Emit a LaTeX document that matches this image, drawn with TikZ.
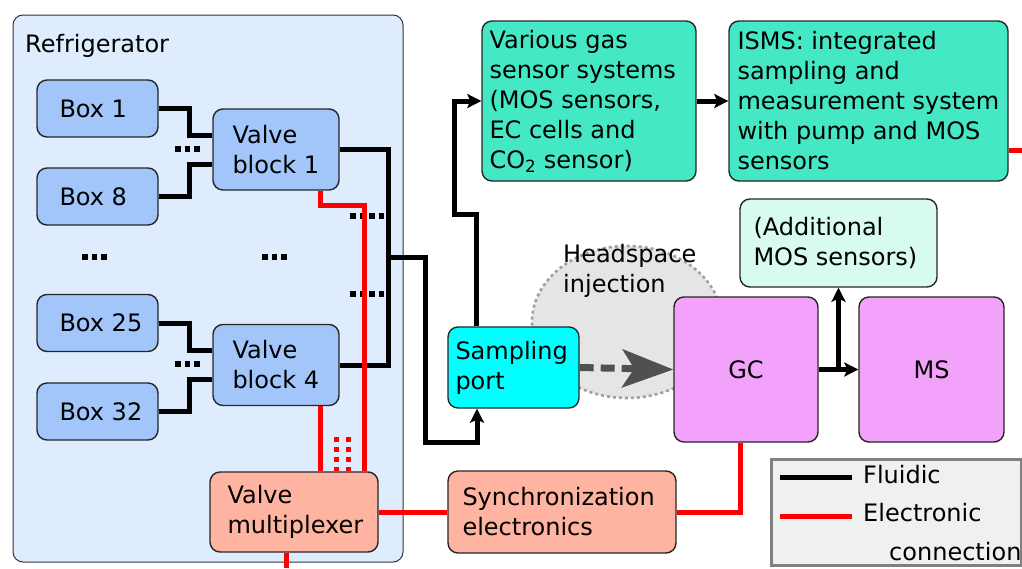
\documentclass[tikz,border=0pt]{standalone}
\usepackage{fontspec}
\setmainfont{DejaVu Sans}
\usetikzlibrary{arrows.meta,shapes.geometric}
\definecolor{fridgefill}{HTML}{DFECFD}
\definecolor{boxfill}{HTML}{A3C6FA}
\definecolor{tealfill}{HTML}{45E8C5}
\definecolor{mintfill}{HTML}{D7FBEF}
\definecolor{cyanfill}{HTML}{00FFFF}
\definecolor{violetfill}{HTML}{F2A2FA}
\definecolor{salmonfill}{HTML}{FFB3A1}
\definecolor{legendfill}{HTML}{F0F0F0}
\definecolor{legenddraw}{HTML}{808080}
\definecolor{hsfill}{HTML}{E5E5E5}
\definecolor{hsdraw}{HTML}{A0A0A0}
\definecolor{hsarrow}{HTML}{505050}
\definecolor{elecred}{HTML}{FF0000}
\begin{document}
\begin{tikzpicture}[x=1pt,y=-1pt,
  rbox/.style={rectangle,draw=black!85,line width=1.4pt,rounded corners=10pt,inner sep=0pt},
  txt/.style={font=\fontsize{24}{30}\selectfont,align=left,inner sep=0pt,anchor=west},
  fluid/.style={line width=5pt,black},
  elec/.style={line width=5pt,elecred},
  tip/.style={-{Stealth[length=14pt,width=14pt,inset=3pt]}},
  dots/.style={line width=5.5pt,black,dash pattern=on 5.5pt off 4pt},
  reddots/.style={line width=4.5pt,elecred,dash pattern=on 5pt off 5pt}]
\useasboundingbox (0,0) rectangle (1022,568);

% refrigerator
\node[rbox,draw=black!80,line width=1pt,fill=fridgefill,minimum width=390pt,minimum height=547pt] (fridge) at (208,288.5) {};
\node[txt,anchor=base west] (fridget) at (25,52) {Refrigerator};

% boxes
\node[rbox,fill=boxfill,minimum width=121pt,minimum height=57pt] (box1) at (97.5,108.5) {};
\node[rbox,fill=boxfill,minimum width=121pt,minimum height=57pt] (box8) at (97.5,196.5) {};
\node[rbox,fill=boxfill,minimum width=121pt,minimum height=57pt] (box25) at (97.5,323) {};
\node[rbox,fill=boxfill,minimum width=121pt,minimum height=57pt] (box32) at (97.5,411.5) {};
\node[txt] (box1t) at ([xshift=23pt]box1.west) {Box 1};
\node[txt] (box8t) at ([xshift=23pt]box8.west) {Box 8};
\node[txt] (box25t) at ([xshift=23pt]box25.west) {Box 25};
\node[txt] (box32t) at ([xshift=23pt]box32.west) {Box 32};

% valve blocks
\node[rbox,fill=boxfill,minimum width=126pt,minimum height=81pt] (vb1) at (276,149.5) {};
\node[rbox,fill=boxfill,minimum width=126pt,minimum height=81pt] (vb4) at (276,365) {};
\node[txt] (vb1t) at ([xshift=20pt]vb1.west) {Valve\\block 1};
\node[txt] (vb4t) at ([xshift=20pt]vb4.west) {Valve\\block 4};

% valve multiplexer
\node[rbox,fill=salmonfill,minimum width=168pt,minimum height=80pt] (mux) at (294,512) {};
\node[txt] (muxt) at ([xshift=18pt]mux.west) {Valve\\multiplexer};

% headspace ellipse
\node[ellipse,fill=hsfill,draw=hsdraw,line width=2.6pt,dash pattern=on 3pt off 3pt,minimum width=190pt,minimum height=152pt,inner sep=0pt] (hs) at (627,322) {};
\node[txt,anchor=base west] (hst) at (563,292) {Headspace\\injection};

% right side boxes
\node[rbox,fill=tealfill,minimum width=214pt,minimum height=160pt] (various) at (589,101) {};
\node[txt] (varioust) at ([xshift=8pt]various.west) {Various gas\\sensor systems\\(MOS sensors,\\EC cells and\\CO\textsubscript{2} sensor)};
\node[rbox,fill=tealfill,minimum width=279pt,minimum height=160pt] (isms) at (868.5,101) {};
\node[txt] (ismst) at ([xshift=9pt]isms.west) {ISMS: integrated\\sampling and\\measurement system\\with pump and MOS\\sensors};
\node[rbox,fill=mintfill,minimum width=197pt,minimum height=88pt] (addmos) at (838.5,243) {};
\node[txt] (addmost) at ([xshift=14pt]addmos.west) {(Additional\\MOS sensors)};
\node[rbox,fill=cyanfill,minimum width=131pt,minimum height=81pt] (sp) at (513.5,367.5) {};
\node[txt] (spt) at ([xshift=8pt]sp.west) {Sampling\\port};
\node[rbox,fill=violetfill,minimum width=144pt,minimum height=145pt] (gc) at (746,369.5) {};
\node[txt,anchor=center] (gct) at (gc.center) {GC};
\node[rbox,fill=violetfill,minimum width=145pt,minimum height=145pt] (ms) at (931.5,369.5) {};
\node[txt,anchor=center] (mst) at (ms.center) {MS};
\node[rbox,fill=salmonfill,minimum width=228pt,minimum height=82pt] (sync) at (562,512) {};
\node[txt] (synct) at ([xshift=15pt]sync.west) {Synchronization\\electronics};

% headspace arrow
\draw[hsarrow,line width=7pt,dash pattern=on 14pt off 7pt,-{Stealth[length=51pt,width=38pt,inset=12pt]}] (sp.east) -- (gc.west);

% fluidic connections
\draw[fluid] (box1.east) -- ++(31,0) |- (vb1.west |- 0,135);
\draw[fluid] (box8.east) -- ++(31,0) |- (vb1.west |- 0,164);
\draw[fluid] (box25.east) -- ++(31,0) |- (vb4.west |- 0,350);
\draw[fluid] (box32.east) -- ++(31,0) |- (vb4.west |- 0,379);
\coordinate (j) at (388,257);
\draw[fluid] (vb1.east) -| (j) |- (vb4.east);
\draw[fluid,tip] (j) -| (425,442) -| (477,0 |- sp.south);
\draw[fluid,tip] (476,0 |- sp.north) |- (454,214) |- (various.west);
\draw[fluid,tip] (various.east) -- (isms.west);
\draw[fluid,tip] (gc.east) -- (ms.west);
\draw[fluid,tip] (gc.east -| addmos.south) -- (addmos.south);

% dots
\draw[dots] (175,149) -- (202,149);
\draw[dots] (175,364) -- (202,364);
\draw[dots] (82,257) -- (109,257);
\draw[dots] (262,257) -- (289,257);
\draw[dots] (350,216) -- (386,216);
\draw[dots] (350,294) -- (386,294);

% electronic connections
\draw[elec] (320,0 |- vb1.south) |- (364,205) -- (364,0 |- mux.north);
\draw[elec] (320,0 |- vb4.south) -- (320,0 |- mux.north);
\draw[reddots] (336.5,437) -- (336.5,0 |- mux.north);
\draw[reddots] (348.5,437) -- (348.5,0 |- mux.north);
\draw[elec] (286,0 |- mux.south) -- (286,568);
\draw[elec] (mux.east) -- (sync.west);
\draw[elec] (740,0 |- gc.south) |- (sync.east);
\draw[elec] (isms.east |- 0,150) -- (1022,150);

% legend
\node[rectangle,fill=legendfill,draw=legenddraw,line width=3pt,minimum width=250pt,minimum height=106pt,inner sep=0pt] (legend) at (896,512) {};
\coordinate (lf1) at (780,477);
\coordinate (lf2) at (852,477);
\coordinate (le1) at (780,516);
\coordinate (le2) at (852,516);
\draw[fluid] (lf1) -- (lf2);
\draw[elec] (le1) -- (le2);
\node[txt,anchor=base west] (legf) at (863,483) {Fluidic};
\node[txt,anchor=base west] (lege) at (863,521) {Electronic};
\node[txt,anchor=base west] (legc) at (889,560) {connection};
\end{tikzpicture}
\end{document}
